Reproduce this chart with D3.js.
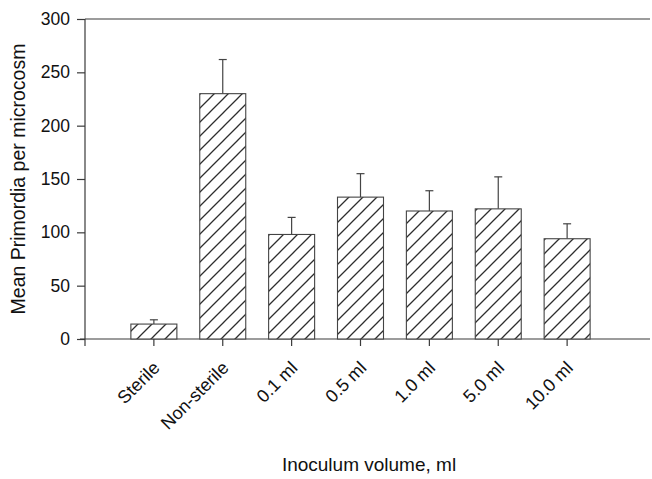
<!DOCTYPE html>
<html>
<head>
<meta charset="utf-8">
<script src="https://cdn.jsdelivr.net/npm/d3@7"></script>
<style>
  html, body { margin: 0; padding: 0; background: #fff; }
  svg { display: block; font-family: "Liberation Sans", Arial, sans-serif; }
</style>
</head>
<body>
<svg id="chart" width="652" height="479"></svg>
<script>
// Treatments and their mean primordia counts (+ standard error)
const categories = ["Sterile", "Non-sterile", "0.1 ml", "0.5 ml", "1.0 ml", "5.0 ml", "10.0 ml"];
const means = [14, 230, 98, 133, 120, 122, 94];
const errors = [4, 32, 16, 22, 19, 30, 14];
const yTicks = [0, 50, 100, 150, 200, 250, 300];
const yTitle = "Mean Primordia per microcosm";
const xTitle = "Inoculum volume, ml";

const svg = d3.select("#chart");
const plotLeft = 85, plotRight = 650, plotTop = 19, plotBottom = 339;
const ink = "#3a3a3a";

const x = d3.scalePoint().domain(categories).range([plotLeft, 636]).padding(1);
const y = d3.scaleLinear().domain([0, 300]).range([plotBottom, plotTop]);
const barW = 46;

// diagonal hatch fill
const defs = svg.append("defs");
const pat = defs.append("pattern")
  .attr("id", "hatch")
  .attr("patternUnits", "userSpaceOnUse")
  .attr("width", 14).attr("height", 14);
pat.append("rect").attr("width", 14).attr("height", 14).attr("fill", "#fff");
pat.append("path")
  .attr("d", "M-3,3 L3,-3 M0,14 L14,0 M11,17 L17,11")
  .attr("stroke", "#2e2e2e").attr("stroke-width", 1.3);

// frame: top line and baseline
svg.append("line").attr("x1", plotLeft).attr("x2", plotRight).attr("y1", plotTop).attr("y2", plotTop)
  .attr("stroke", ink).attr("stroke-width", 1.2);
svg.append("line").attr("x1", plotLeft - 5).attr("x2", plotRight).attr("y1", plotBottom).attr("y2", plotBottom)
  .attr("stroke", ink).attr("stroke-width", 1.2);

// y axis
const yAxis = svg.append("g").attr("transform", `translate(${plotLeft},0)`)
  .call(d3.axisLeft(y).tickValues(yTicks).tickSize(8).tickPadding(7).tickSizeOuter(0));
yAxis.select(".domain").attr("d", `M0,${plotTop}V${plotBottom + 7}`).attr("stroke", ink).attr("stroke-width", 1.2);
yAxis.selectAll(".tick line").attr("stroke", ink).attr("stroke-width", 1.2);
yAxis.selectAll(".tick text").attr("font-size", 17.5).attr("fill", "#111")
  .attr("font-family", "Liberation Sans, Arial, sans-serif");

// error bars (upper only)
const eb = svg.append("g").selectAll("g").data(categories).join("g");
eb.append("line")
  .attr("x1", d => x(d)).attr("x2", d => x(d))
  .attr("y1", (d, i) => y(means[i])).attr("y2", (d, i) => y(means[i] + errors[i]))
  .attr("stroke", "#444").attr("stroke-width", 1.2);
eb.append("line")
  .attr("x1", d => x(d) - 4).attr("x2", d => x(d) + 4)
  .attr("y1", (d, i) => y(means[i] + errors[i])).attr("y2", (d, i) => y(means[i] + errors[i]))
  .attr("stroke", "#444").attr("stroke-width", 1.2);

// bars
svg.append("g").selectAll("rect").data(categories).join("rect")
  .attr("x", d => x(d) - barW / 2)
  .attr("width", barW)
  .attr("y", (d, i) => y(means[i]))
  .attr("height", (d, i) => y(0) - y(means[i]))
  .attr("fill", "url(#hatch)")
  .attr("stroke", "#444").attr("stroke-width", 1.1);

// x ticks and rotated labels
const xg = svg.append("g");
xg.selectAll("line").data(categories).join("line")
  .attr("x1", d => x(d)).attr("x2", d => x(d))
  .attr("y1", plotBottom).attr("y2", plotBottom + 7)
  .attr("stroke", ink).attr("stroke-width", 1.2);
xg.selectAll("text").data(categories).join("text")
  .attr("transform", d => `translate(${x(d) + 7},${plotBottom + 30}) rotate(-45)`)
  .attr("text-anchor", "end")
  .attr("font-size", 18).attr("fill", "#111")
  .text(d => d);

// axis titles
svg.append("text")
  .attr("transform", `translate(25,179) rotate(-90)`)
  .attr("text-anchor", "middle")
  .attr("font-size", 19.5).attr("fill", "#111")
  .text(yTitle);
svg.append("text")
  .attr("x", 369).attr("y", 471)
  .attr("text-anchor", "middle")
  .attr("font-size", 19).attr("fill", "#111")
  .text(xTitle);
</script>
</body>
</html>
